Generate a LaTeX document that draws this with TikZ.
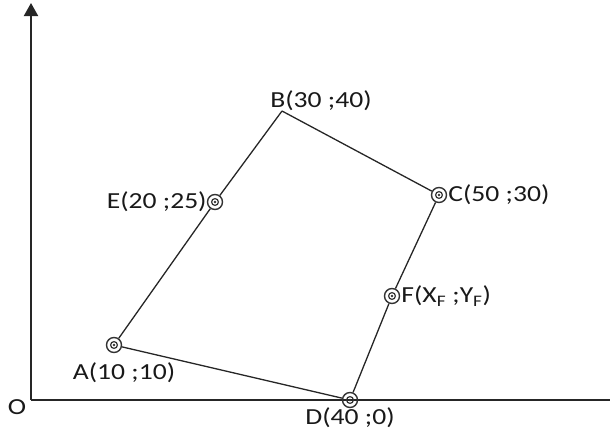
\documentclass[tikz,border=0pt]{standalone}
\usepackage{fontspec}
\setmainfont{Carlito}
\newfontfamily\lblfont[FakeStretch=1.2]{Carlito}
\usepackage{tikz}
\usetikzlibrary{arrows.meta, positioning}

\begin{document}
\begin{tikzpicture}[
    x=1pt, y=-1pt,
    node distance=2pt,
    axis/.style={line width=2pt, color=black!85},
    edge/.style={line width=1.3pt, color=black!85},
    mark pt/.style={circle, draw=black!80, line width=1.4pt, minimum size=15pt, inner sep=0pt,
      path picture={\draw[black!80, line width=1.2pt] (path picture bounding box.center) circle (3.4pt);
        \fill[black!80] (path picture bounding box.center) circle (1.3pt);}},
    lbl/.style={font=\fontsize{23}{24}\lblfont, text=black!90, inner sep=0pt},
  ]
  \useasboundingbox (0,0) rectangle (610,439);

  % Axes
  \coordinate (O) at (31,400);
  \coordinate (Ytop) at (31,3);
  \coordinate (Xend) at (610,400);
  \draw[axis, -{Triangle[width=14pt, length=13pt]}] (O) -- (Ytop);
  \draw[axis] (O) -- (Xend);
  \node[lbl] (Olbl) at (17,407) {O};

  % Corner points
  \coordinate (B) at (282,111);
  \node[mark pt] (A) at (114,345) {};
  \node[mark pt] (C) at (439,195) {};
  \node[mark pt] (D) at (350,400) {};

  % Middle points
  \node[mark pt] (E) at (215,202) {};
  \node[mark pt] (F) at (392,296) {};

  % Outline
  \draw[edge] (A) -- (E);
  \draw[edge] (E) -- (B);
  \draw[edge] (B) -- (C);
  \draw[edge] (C) -- (F);
  \draw[edge] (F) -- (D);
  \draw[edge] (D) -- (A);

  % Labels
  \node[lbl] (Blbl) at (321,101) {B(30 ;40)};
  \node[lbl] (Elbl) [left=0pt of E] {E(20 ;25)};
  \node[lbl] (Clbl) [right=1pt of C] {C(50 ;30)};
  \node[lbl] (Flbl) [right=1pt of F] {F(X\textsubscript{F} ;Y\textsubscript{F})};
  \node[lbl] (Albl) at (124,373) {A(10 ;10)};
  \node[lbl] (Dlbl) at (350,418) {D(40 ;0)};
\end{tikzpicture}
\end{document}
